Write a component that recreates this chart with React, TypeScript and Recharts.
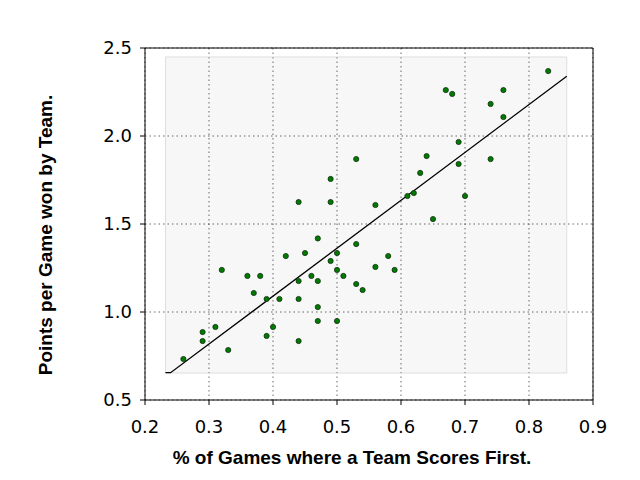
import {
  ReferenceArea,
  Scatter,
  ScatterChart,
  CartesianGrid,
  XAxis,
  YAxis,
} from 'recharts';

// share of games where the team scored first vs points per game
const scoreFirst = [
  0.26, 0.29, 0.29, 0.31, 0.32, 0.33, 0.36, 0.37, 0.38, 0.39, 0.39, 0.4, 0.41, 0.42,
  0.44, 0.44, 0.44, 0.44, 0.45, 0.46, 0.47, 0.47, 0.47, 0.47, 0.49, 0.49, 0.49, 0.5,
  0.5, 0.5, 0.51, 0.53, 0.53, 0.53, 0.54, 0.56, 0.56, 0.58, 0.59, 0.61, 0.62, 0.63,
  0.64, 0.65, 0.67, 0.68, 0.69, 0.69, 0.7, 0.74, 0.74, 0.76, 0.76, 0.83,
];
const pointsPerGame = [
  0.733, 0.886, 0.835, 0.915, 1.239, 0.784, 1.205, 1.108, 1.205, 1.074, 0.864, 0.915,
  1.074, 1.318, 1.625, 1.176, 1.074, 0.835, 1.335, 1.205, 1.418, 1.176, 1.028, 0.949,
  1.756, 1.625, 1.29, 1.335, 1.239, 0.949, 1.205, 1.869, 1.386, 1.159, 1.125, 1.608,
  1.256, 1.318, 1.239, 1.659, 1.676, 1.79, 1.886, 1.528, 2.261, 2.239, 1.966, 1.841,
  1.659, 2.182, 1.869, 2.261, 2.108, 2.369,
];

// fitted line as drawn (flat stub at the left end)
const trendX = [0.232, 0.24, 0.859];
const trendY = [0.655, 0.655, 2.339];

// shaded box behind the points
const boxX = [0.232, 0.859];
const boxY = [0.653, 2.449];

const xTicks = [0.2, 0.3, 0.4, 0.5, 0.6, 0.7, 0.8, 0.9];
const yTicks = [0.5, 1.0, 1.5, 2.0, 2.5];

const points = scoreFirst.map((x, i) => ({ x, y: pointsPerGame[i] }));
const trend = trendX.map((x, i) => ({ x, y: trendY[i] }));

const tickStyle = { fontFamily: 'DejaVu Sans', fontSize: 18, fill: '#000' };
const titleFont = 'Liberation Sans, Arial, sans-serif';

function XTitle({ viewBox }: any) {
  const cx = viewBox.x + viewBox.width / 2 - 17;
  return (
    <text x={cx} y={viewBox.y + 64} textAnchor="middle" fontFamily={titleFont}
      fontWeight="bold" fontSize={19} fill="#000">
      % of Games where a Team Scores First.
    </text>
  );
}

function YTitle({ viewBox }: any) {
  const x = viewBox.x - 33;
  const y = viewBox.y + viewBox.height / 2 + 11;
  return (
    <text x={x} y={y} transform={`rotate(-90, ${x}, ${y})`} textAnchor="middle"
      fontFamily={titleFont} fontWeight="bold" fontSize={19} fill="#000">
      Points per Game won by Team.
    </text>
  );
}

const dot = (p: any) => (
  <circle cx={p.cx} cy={p.cy} r={2.6} fill="#007a00" stroke="#143214" strokeWidth={0.8} />
);

export default function App() {
  return (
    <div style={{ position: 'absolute', left: 0, top: 0, background: '#fff' }}>
      <ScatterChart width={640} height={480} margin={{ top: 43, right: 42, bottom: 40, left: 85 }}>
        <CartesianGrid stroke="#444" strokeDasharray="1.5 3" strokeWidth={0.8}
          verticalValues={xTicks} horizontalValues={yTicks} />
        <ReferenceArea x1={boxX[0]} x2={boxX[1]} y1={boxY[0]} y2={boxY[1]}
          fill="#000" fillOpacity={0.03} stroke="#d8d8d8" strokeOpacity={0.8} ifOverflow="visible" />
        <XAxis type="number" dataKey="x" domain={[0.2, 0.9]} ticks={xTicks} allowDataOverflow
          height={40} tick={tickStyle} tickSize={5} tickMargin={15}
          tickFormatter={(v: number) => v.toFixed(1)}
          stroke="#000" tickLine={{ stroke: '#000' }} label={<XTitle />} />
        <XAxis xAxisId="top" orientation="top" type="number" dataKey="x" domain={[0.2, 0.9]}
          ticks={xTicks} allowDataOverflow height={5} tickSize={5} tick={false}
          stroke="#000" tickLine={{ stroke: '#000' }} />
        <YAxis type="number" dataKey="y" domain={[0.5, 2.5]} ticks={yTicks} allowDataOverflow
          width={60} tick={tickStyle} tickSize={5} tickMargin={8}
          tickFormatter={(v: number) => v.toFixed(1)}
          stroke="#000" tickLine={{ stroke: '#000' }} label={<YTitle />} />
        <YAxis yAxisId="right" orientation="right" type="number" dataKey="y" domain={[0.5, 2.5]}
          ticks={yTicks} allowDataOverflow width={5} tickSize={5} tick={false}
          stroke="#000" tickLine={{ stroke: '#000' }} />
        <Scatter data={trend} line={{ stroke: '#000', strokeWidth: 1.3 }} lineType="joint"
          shape={() => null} isAnimationActive={false} />
        <Scatter data={points} shape={dot} isAnimationActive={false} />
      </ScatterChart>
    </div>
  );
}
